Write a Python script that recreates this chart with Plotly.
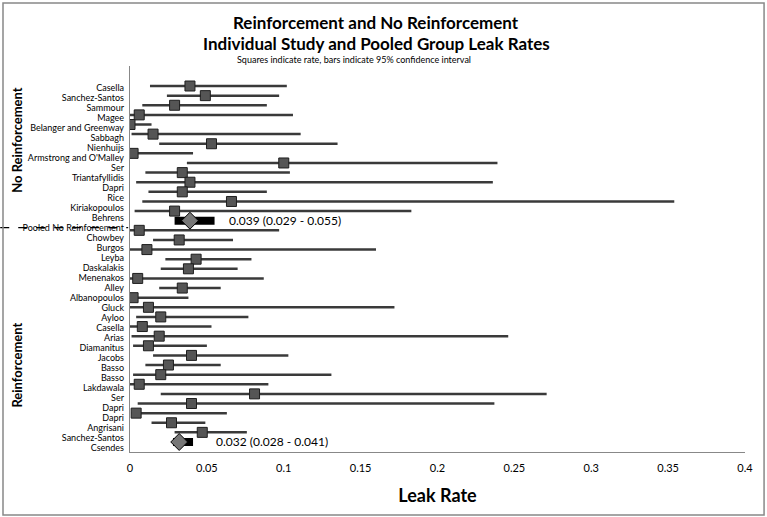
import plotly.graph_objects as go

# No reinforcement studies
nr_names = ["Casella", "Sanchez-Santos", "Sammour", "Magee", "Belanger and Greenway", "Sabbagh",
            "Nienhuijs", "Armstrong and O'Malley", "Ser", "Triantafyllidis", "Dapri", "Rice",
            "Kiriakopoulos", "Behrens"]
nr_rate = [0.039, 0.049, 0.029, 0.006, 0.000, 0.015, 0.053, 0.002, 0.100, 0.034, 0.039, 0.034, 0.066, 0.029]
nr_lo = [0.013, 0.024, 0.008, 0.000, 0.000, 0.001, 0.019, 0.000, 0.037, 0.010, 0.004, 0.012, 0.008, 0.003]
nr_hi = [0.102, 0.097, 0.089, 0.106, 0.014, 0.111, 0.135, 0.041, 0.239, 0.104, 0.236, 0.089, 0.354, 0.183]

# Reinforcement studies
r_names = ["Chowbey", "Burgos", "Leyba", "Daskalakis", "Menenakos", "Alley", "Albanopoulos", "Gluck",
           "Ayloo", "Casella", "Arias", "Diamanitus", "Jacobs", "Basso", "Basso", "Lakdawala", "Ser",
           "Dapri", "Dapri", "Angrisani", "Sanchez-Santos", "Csendes"]
r_rate = [0.006, 0.032, 0.011, 0.043, 0.038, 0.005, 0.034, 0.002, 0.012, 0.020, 0.008, 0.019,
          0.012, 0.040, 0.025, 0.020, 0.006, 0.081, 0.040, 0.004, 0.027, 0.047]
r_lo = [0.000, 0.015, 0.000, 0.023, 0.020, 0.000, 0.019, 0.000, 0.000, 0.004, 0.000, 0.001,
        0.002, 0.015, 0.010, 0.002, 0.000, 0.020, 0.005, 0.001, 0.014, 0.029]
r_hi = [0.097, 0.067, 0.160, 0.079, 0.070, 0.087, 0.059, 0.038, 0.172, 0.077, 0.053, 0.246,
        0.050, 0.103, 0.059, 0.131, 0.090, 0.271, 0.237, 0.063, 0.049, 0.076]

# Pooled groups
pooled_rate = [0.039, 0.032]
pooled_lo = [0.029, 0.028]
pooled_hi = [0.055, 0.041]

# row layout: NR studies, NR pool, R studies, R pool
nr_rows = list(range(len(nr_names)))
pool_rows = [len(nr_names), len(nr_names) + 1 + len(r_names)]
r_rows = [len(nr_names) + 1 + i for i in range(len(r_names))]

labels = nr_names + ["Pooled No Reinforcement"] + r_names

study_rate = nr_rate + r_rate
study_lo = nr_lo + r_lo
study_hi = nr_hi + r_hi
study_rows = nr_rows + r_rows

FONT = "Lato, sans-serif"

fig = go.Figure()

# confidence interval lines
cx, cy = [], []
for lo, hi, row in zip(study_lo, study_hi, study_rows):
    cx += [lo, hi, None]
    cy += [row, row, None]
fig.add_trace(go.Scatter(x=cx, y=cy, mode="lines", line=dict(color="#3a3a3a", width=2.5),
                         hoverinfo="skip", showlegend=False))

fig.add_trace(go.Scatter(x=study_rate, y=study_rows, mode="markers",
                         marker=dict(symbol="square", size=10, color="#555555",
                                     line=dict(color="#1e1e1e", width=1)),
                         showlegend=False))

# pooled estimates
px_, py_ = [], []
for lo, hi, row in zip(pooled_lo, pooled_hi, pool_rows):
    px_ += [lo, hi, None]
    py_ += [row, row, None]
fig.add_trace(go.Scatter(x=px_, y=py_, mode="lines", line=dict(color="black", width=8),
                         hoverinfo="skip", showlegend=False))
fig.add_trace(go.Scatter(x=pooled_rate, y=pool_rows, mode="markers",
                         marker=dict(symbol="diamond", size=13, color="#777777",
                                     line=dict(color="black", width=1)),
                         showlegend=False))

# invisible trace carrying the study name axis
fig.add_trace(go.Scatter(x=[0] * len(labels), y=list(range(len(labels))), yaxis="y2",
                         mode="markers", marker=dict(opacity=0), hoverinfo="skip", showlegend=False))

shifts = [12, 21]
for r, lo, hi, row, xs in zip(pooled_rate, pooled_lo, pooled_hi, pool_rows, shifts):
    fig.add_annotation(x=hi, y=row, text=f"{r:.3f} ({lo:.3f} - {hi:.3f})", showarrow=False,
                       xanchor="left", xshift=xs, font=dict(family=FONT, size=12, color="black"))

# group titles
fig.add_annotation(x=-0.183, y=0.81, xref="paper", yref="paper", xanchor="center", yanchor="middle",
                   text="<b>No Reinforcement</b>", textangle=-90, showarrow=False,
                   font=dict(family=FONT, size=13, color="black"))
fig.add_annotation(x=-0.183, y=0.225, xref="paper", yref="paper", xanchor="center", yanchor="middle",
                   text="<b>Reinforcement</b>", textangle=-90, showarrow=False,
                   font=dict(family=FONT, size=13, color="black"))

fig.add_annotation(x=0.4, y=1.112, xref="paper", yref="paper", xanchor="center", yanchor="middle",
                   text="<b>Reinforcement and No Reinforcement</b>", showarrow=False,
                   font=dict(family=FONT, size=17, color="black"))
fig.add_annotation(x=0.4, y=1.058, xref="paper", yref="paper", xanchor="center", yanchor="middle",
                   text="<b>Individual Study and Pooled Group Leak Rates</b>", showarrow=False,
                   font=dict(family=FONT, size=17, color="black"))
fig.add_annotation(x=0.365, y=1.018, xref="paper", yref="paper", xanchor="center", yanchor="middle",
                   text="Squares indicate rate, bars indicate 95% confidence interval", showarrow=False,
                   font=dict(family=FONT, size=9, color="black"))

# dashed strike line through the pooled label, and page frame
fig.add_shape(type="line", xref="paper", yref="y2", x0=-0.211, x1=-0.003, y0=len(nr_names), y1=len(nr_names),
              line=dict(color="black", width=1.3, dash="dash"), layer="above")
fig.add_shape(type="rect", xref="paper", yref="paper", x0=-0.2065, x1=1.031, y0=-0.163, y1=1.163,
              line=dict(color="#888888", width=1.5))

fig.update_layout(
    width=767, height=517,
    margin=dict(l=130, r=22, t=66, b=65, autoexpand=False),
    paper_bgcolor="white", plot_bgcolor="white",
    showlegend=False,
    xaxis=dict(range=[0, 0.4], tickvals=[0, 0.05, 0.1, 0.15, 0.2, 0.25, 0.3, 0.35, 0.4],
               ticktext=["0", "0.05", "0.1", "0.15", "0.2", "0.25", "0.3", "0.35", "0.4"],
               showgrid=False, zeroline=False, showline=True, linecolor="#888888", linewidth=1,
               ticks="", ticklabelstandoff=6, tickfont=dict(family=FONT, size=11, color="black"),
               title=dict(text="<b>Leak Rate</b>", font=dict(family=FONT, size=18, color="black"), standoff=16)),
    yaxis=dict(range=[38.04, -2.08], showticklabels=False, showgrid=False, zeroline=False,
               showline=True, linecolor="#888888", linewidth=1, ticks=""),
    yaxis2=dict(overlaying="y", side="left", range=[36.43, -2.17], tickvals=list(range(len(labels))),
                ticktext=labels, showgrid=False, zeroline=False, showline=False, ticks="",
                ticklabelstandoff=5, tickfont=dict(family=FONT, size=9, color="black")),
)

fig.write_html("out.html", config={"displayModeBar": False},
               post_script="document.body.style.margin='0';")
